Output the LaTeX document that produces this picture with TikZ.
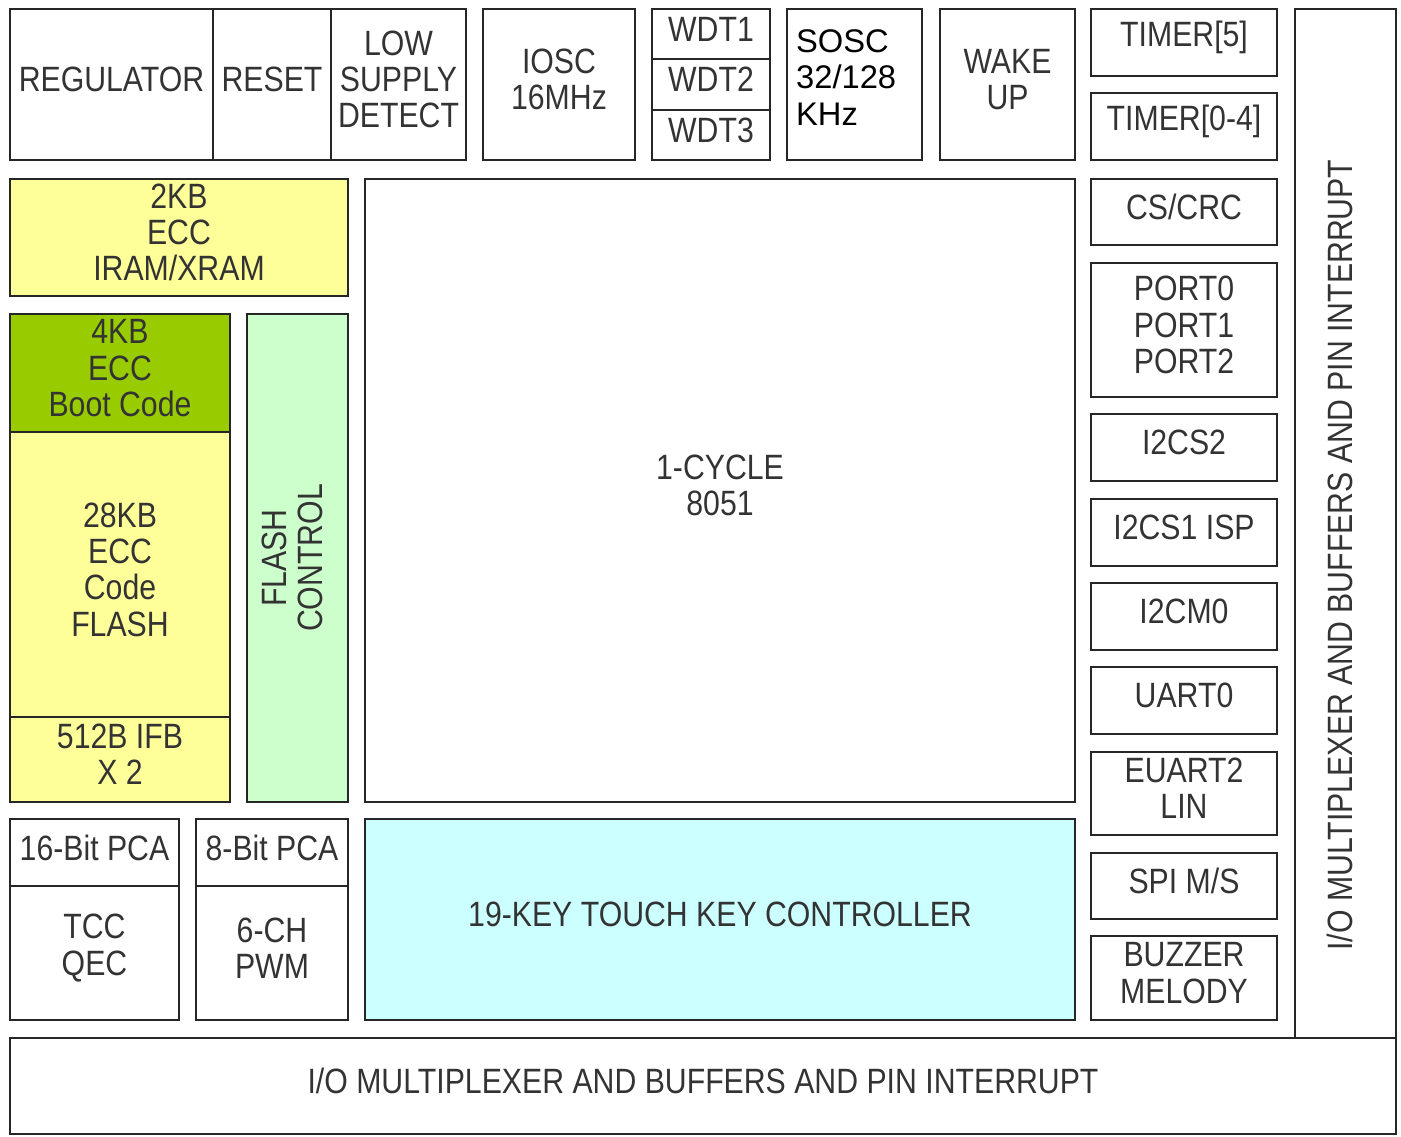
\documentclass[tikz,border=0pt]{standalone}
\usepackage{fontspec}
\setmainfont{Liberation Sans}[FakeStretch=0.86]
\newfontfamily\oscfont{Liberation Sans}
\usetikzlibrary{fit}

\definecolor{ramyellow}{HTML}{FFFF99}
\definecolor{bootgreen}{HTML}{99CC00}
\definecolor{flashgreen}{HTML}{CCFFCC}
\definecolor{touchcyan}{HTML}{CCFFFF}
\definecolor{blktext}{HTML}{333333}

\begin{document}
\begin{tikzpicture}[%
        x=0.01cm, y=-0.01cm,
        blk/.style={draw=black!85, line width=0.8pt, inner sep=0pt},
        lbl/.style={inner sep=0pt, align=center, text=blktext,
            font=\fontsize{10}{10.3}\selectfont},
        txt/.style={label={[lbl, yshift=1.4pt]center:{#1}}}
    ]
        \useasboundingbox (0,0) rectangle (1401,1136);

        % top row
        \node [blk, txt=REGULATOR, fit={(10,9) (213,160)}] (reg) {};
        \node [blk, txt=RESET, fit={(213,9) (331,160)}] (rst) {};
        \node [blk, txt={LOW\\SUPPLY\\DETECT}, fit={(331,9) (466,160)}] (lsd) {};
        \node [blk, txt={IOSC\\16MHz}, fit={(483,9) (635,160)}] (iosc) {};
        \node [blk, txt=WDT1, fit={(652,9) (770,59)}] (wdt1) {};
        \node [blk, txt=WDT2, fit={(652,59) (770,110)}] (wdt2) {};
        \node [blk, txt=WDT3, fit={(652,110) (770,160)}] (wdt3) {};
        \node [blk, fit={(787,9) (922,160)}] (sosc) {};
        \node [inner sep=0pt, align=left, anchor=west,
            font=\oscfont\fontsize{9.3}{10.3}\selectfont]
            (sosctxt) at ([xshift=2.8pt, yshift=2pt]sosc.west) {SOSC\\32/128\\KHz};
        \node [blk, txt={WAKE\\UP}, fit={(940,9) (1075,160)}] (wake) {};

        % memories and core
        \node [blk, fill=ramyellow, txt={2KB\\ECC\\IRAM/XRAM},
            fit={(10,179) (348,296)}] (ram) {};
        \node [blk, fill=bootgreen, txt={4KB\\ECC\\Boot Code},
            fit={(10,314) (230,432)}] (boot) {};
        \node [blk, fill=ramyellow, txt={28KB\\ECC\\Code\\FLASH},
            fit={(10,432) (230,717)}] (flash) {};
        \node [blk, fill=ramyellow, txt={512B IFB\\X 2},
            fit={(10,717) (230,802)}] (ifb) {};
        \node [blk, fill=flashgreen, fit={(247,314) (348,802)}] (fctl) {};
        \node [lbl, rotate=90, yshift=1.4pt] (fctltxt) at (fctl) {FLASH\\CONTROL};
        \node [blk, txt={1-CYCLE\\8051}, fit={(365,179) (1075,802)}] (cpu) {};

        % timers and counters
        \node [blk, txt={16-Bit PCA}, fit={(10,819) (179,886)}] (pca16) {};
        \node [blk, txt={TCC\\QEC}, fit={(10,886) (179,1020)}] (tcc) {};
        \node [blk, txt={8-Bit PCA}, fit={(196,819) (348,886)}] (pca8) {};
        \node [blk, txt={6-CH\\PWM}, fit={(196,886) (348,1020)}] (pwm) {};
        \node [blk, fill=touchcyan, txt={19-KEY TOUCH KEY CONTROLLER},
            fit={(365,819) (1075,1020)}] (touch) {};

        % peripherals
        \foreach \n/\ya/\yb/\t in
            {tmr5/9/76/{TIMER[5]}, tmr04/93/160/{TIMER[0-4]},
             crc/179/245/{CS/CRC}, port/263/397/{PORT0\\PORT1\\PORT2},
             ics2/414/481/{I2CS2}, ics1/499/566/{I2CS1 ISP},
             icm0/583/650/{I2CM0}, uart0/667/734/{UART0},
             euart/752/835/{EUART2\\LIN}, spi/853/919/{SPI M/S},
             buzz/936/1020/{BUZZER\\MELODY}}
            \node [blk, txt=\t, fit={(1091,\ya) (1277,\yb)}] (\n) {};

        % I/O
        \node [blk, fit={(1295,9) (1396,1038)}] (iov) {};
        \node [lbl, rotate=90] (iovtxt) at (1340,555)
            {I/O MULTIPLEXER AND BUFFERS AND PIN INTERRUPT};
        \node [blk, txt={I/O MULTIPLEXER AND BUFFERS AND PIN INTERRUPT},
            fit={(10,1038) (1396,1134)}] (ioh) {};
    \end{tikzpicture}
\end{document}
